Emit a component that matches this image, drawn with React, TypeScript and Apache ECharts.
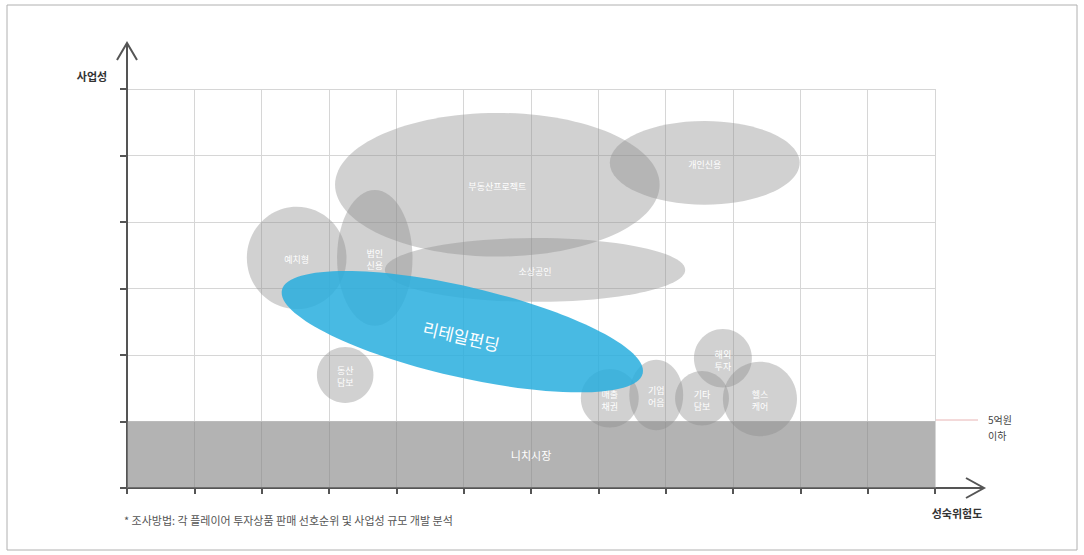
import React, { useEffect, useRef } from "react";
import * as echarts from "echarts";

// Bubble (ellipse) data in axis units
const bubbleLabels = ["부동산프로젝트", "개인신용", "소상공인", "예치형", "법인\n신용", "동산\n담보", "매출\n채권", "기업\n어음", "기타\n담보", "해외\n투자", "헬스\n케어", "리테일펀딩"];
const bubbleX = [5.5, 8.58, 6.06, 2.52, 3.68, 3.24, 7.17, 7.86, 8.54, 8.85, 9.4, 4.98];
const bubbleY = [4.56, 4.89, 3.28, 3.46, 3.46, 1.7, 1.35, 1.4, 1.35, 1.95, 1.34, 2.35];
const bubbleRx = [2.41, 1.41, 2.23, 0.74, 0.56, 0.42, 0.43, 0.4, 0.4, 0.43, 0.55, 2.75];
const bubbleRy = [1.08, 0.63, 0.48, 0.77, 1.02, 0.42, 0.44, 0.53, 0.41, 0.44, 0.56, 0.68];
const bubbleRotation = [0, 0, 0, 0, 0, 0, 0, 0, 0, 0, 0, -13];
const bubbleHighlight = [0, 0, 0, 0, 0, 0, 0, 0, 0, 0, 0, 1];

// Niche market band
const nicheLabel = "니치시장";
const nicheRange = [0, 0, 12, 1];

const xMax = 12;
const yMax = 6;

export default function App() {
  const ref = useRef<HTMLDivElement>(null);
  useEffect(() => {
    if (!ref.current) return;
    const chart = echarts.init(ref.current, null, { renderer: "svg" });
    const font = '"Noto Sans CJK KR", "Noto Sans", sans-serif';
    const bubbleData = bubbleX.map((x, i) => [x, bubbleY[i], bubbleRx[i], bubbleRy[i], bubbleRotation[i], bubbleHighlight[i]]);
    chart.setOption({
      animation: false,
      backgroundColor: "#ffffff",
      grid: { left: 127, top: 89, right: 149, bottom: 67, containLabel: false },
      xAxis: {
        type: "value",
        min: 0,
        max: xMax,
        interval: 1,
        axisLabel: { show: false },
        axisLine: { show: true, lineStyle: { color: "#555", width: 2 } },
        axisTick: { show: true, length: 6, lineStyle: { color: "#555", width: 2 } },
        splitLine: { show: true, lineStyle: { color: "#d6d6d6", width: 1 } },
      },
      yAxis: {
        type: "value",
        min: 0,
        max: yMax,
        interval: 1,
        axisLabel: { show: false },
        axisLine: { show: true, lineStyle: { color: "#555", width: 2 } },
        axisTick: { show: true, length: 7, lineStyle: { color: "#555", width: 2 } },
        splitLine: { show: true, lineStyle: { color: "#d6d6d6", width: 1 } },
      },
      series: [
        {
          type: "custom",
          data: [nicheRange],
          renderItem: (params: any, api: any) => {
            const p0 = api.coord([api.value(0), api.value(1)]);
            const p1 = api.coord([api.value(2), api.value(3)]);
            return {
              type: "group",
              children: [
                {
                  type: "rect",
                  shape: { x: p0[0], y: p1[1], width: p1[0] - p0[0], height: p0[1] - p1[1] },
                  style: { fill: "rgba(128,128,128,0.6)" },
                },
                {
                  type: "text",
                  x: (p0[0] + p1[0]) / 2,
                  y: (p0[1] + p1[1]) / 2,
                  style: { text: nicheLabel, fill: "#ffffff", fontSize: 11, fontFamily: font, align: "center", verticalAlign: "middle" },
                },
              ],
            };
          },
        },
        {
          type: "custom",
          data: bubbleData,
          renderItem: (params: any, api: any) => {
            const c = api.coord([api.value(0), api.value(1)]);
            const s = api.size([api.value(2), api.value(3)]);
            const rot = (api.value(4) * Math.PI) / 180;
            const hi = api.value(5) === 1;
            const label = bubbleLabels[params.dataIndex];
            return {
              type: "group",
              x: c[0],
              y: c[1],
              rotation: rot,
              children: [
                {
                  type: "ellipse",
                  shape: { cx: 0, cy: 0, rx: s[0], ry: s[1] },
                  style: { fill: hi ? "rgba(40,174,222,0.85)" : "rgba(140,140,140,0.4)" },
                },
                {
                  type: "text",
                  x: 0,
                  y: hi ? 4 : 2,
                  style: {
                    text: label,
                    fill: "#ffffff",
                    fontSize: hi ? 17 : 9,
                    lineHeight: hi ? 20 : 12,
                    fontFamily: font,
                    align: "center",
                    verticalAlign: "middle",
                  },
                },
              ],
            };
          },
        },
      ],
      graphic: [
        { type: "rect", shape: { x: 7, y: 5, width: 1070, height: 545 }, style: { fill: "none", stroke: "#b0b0b0", lineWidth: 1 } },
        { type: "line", shape: { x1: 127, y1: 90, x2: 127, y2: 43 }, style: { stroke: "#555", lineWidth: 2 } },
        { type: "polyline", shape: { points: [[117, 60], [127, 43], [137, 60]] }, style: { stroke: "#555", lineWidth: 2, fill: "none" } },
        { type: "line", shape: { x1: 934, y1: 488, x2: 984, y2: 488 }, style: { stroke: "#555", lineWidth: 2 } },
        { type: "polyline", shape: { points: [[966, 478], [984, 488], [966, 498]] }, style: { stroke: "#555", lineWidth: 2, fill: "none" } },
        { type: "line", shape: { x1: 935, y1: 420, x2: 978, y2: 420 }, style: { stroke: "#e8b4b4", lineWidth: 1 } },
        { type: "text", x: 988, y: 419, style: { text: "5억원", fill: "#444", fontSize: 10, fontFamily: font, align: "left", verticalAlign: "middle" } },
        { type: "text", x: 988, y: 435, style: { text: "이하", fill: "#444", fontSize: 10, fontFamily: font, align: "left", verticalAlign: "middle" } },
        { type: "text", x: 92, y: 76, style: { text: "사업성", fill: "#333", fontSize: 11, fontWeight: "bold", fontFamily: font, align: "center", verticalAlign: "middle" } },
        { type: "text", x: 957, y: 513, style: { text: "성숙위험도", fill: "#333", fontSize: 11, fontWeight: "bold", fontFamily: font, align: "center", verticalAlign: "middle" } },
        { type: "text", x: 124, y: 520, style: { text: "* 조사방법: 각 플레이어 투자상품 판매 선호순위 및 사업성 규모 개발 분석", fill: "#555", fontSize: 11, fontFamily: font, align: "left", verticalAlign: "middle" } },
      ],
    });
    return () => chart.dispose();
  }, []);
  return <div ref={ref} style={{ position: "fixed", left: 0, top: 0, width: 1084, height: 555, background: "#fff" }} />;
}
